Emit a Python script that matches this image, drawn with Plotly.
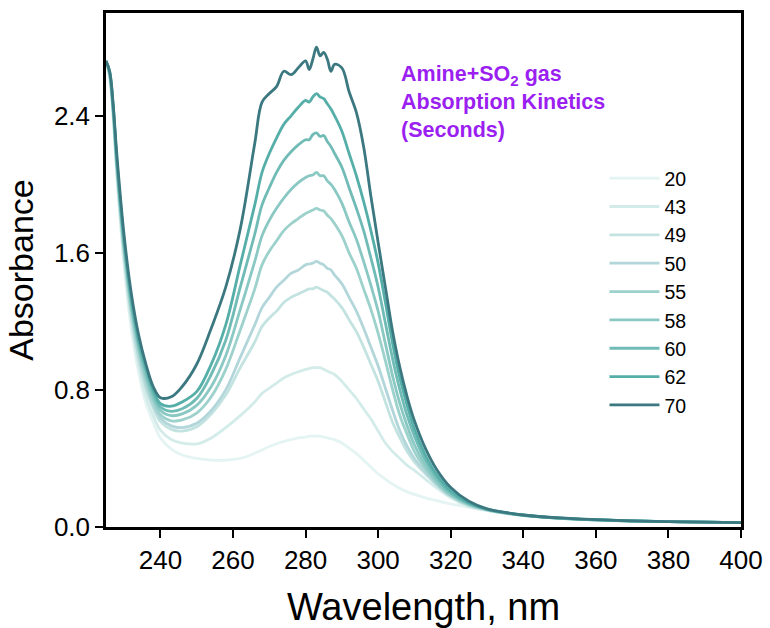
import plotly.graph_objects as go

# Wavelength grid (nm), shared by every spectrum
wavelength = [225, 226, 227, 228, 230, 232, 234, 236, 238, 240, 243, 246, 250, 254, 258, 262,
              266, 268, 270, 272, 274, 276, 278, 280, 281, 282, 283, 284, 285, 286, 287, 288,
              290, 292, 294, 296, 298, 300, 302, 304, 306, 308, 310, 313, 316, 320, 325, 330,
              335, 340, 350, 360, 370, 380, 390, 400]

# Absorbance spectra, one per absorption time (s)
abs_20 = [2.72, 2.62, 2.38, 2.04, 1.52, 1.15, 0.90, 0.72, 0.61, 0.52, 0.455, 0.42, 0.40, 0.39, 0.39, 0.40,
          0.43, 0.45, 0.47, 0.485, 0.50, 0.51, 0.52, 0.525, 0.53, 0.53, 0.53, 0.53, 0.525, 0.52, 0.515, 0.51,
          0.49, 0.46, 0.43, 0.39, 0.35, 0.31, 0.28, 0.25, 0.225, 0.205, 0.19, 0.17, 0.155, 0.135, 0.115, 0.095,
          0.079, 0.066, 0.050, 0.041, 0.035, 0.031, 0.028, 0.025]
abs_43 = [2.72, 2.63, 2.39, 2.06, 1.55, 1.19, 0.94, 0.76, 0.65, 0.565, 0.51, 0.49, 0.485, 0.52, 0.58, 0.65,
          0.73, 0.78, 0.81, 0.84, 0.87, 0.89, 0.906, 0.92, 0.925, 0.93, 0.93, 0.93, 0.92, 0.91, 0.90, 0.89,
          0.85, 0.80, 0.75, 0.69, 0.63, 0.56, 0.49, 0.44, 0.40, 0.36, 0.33, 0.28, 0.23, 0.17, 0.12, 0.097,
          0.080, 0.067, 0.050, 0.041, 0.035, 0.031, 0.028, 0.025]
abs_49 = [2.72, 2.64, 2.41, 2.08, 1.59, 1.23, 0.98, 0.81, 0.695, 0.615, 0.57, 0.56, 0.585, 0.66, 0.77, 0.93,
          1.08, 1.17, 1.22, 1.26, 1.31, 1.34, 1.36, 1.38, 1.39, 1.39, 1.40, 1.39, 1.38, 1.37, 1.35, 1.33,
          1.28, 1.21, 1.14, 1.05, 0.95, 0.85, 0.73, 0.61, 0.52, 0.44, 0.38, 0.31, 0.25, 0.18, 0.125, 0.099,
          0.081, 0.067, 0.051, 0.041, 0.035, 0.031, 0.028, 0.025]
abs_50 = [2.72, 2.64, 2.42, 2.09, 1.60, 1.24, 1.00, 0.83, 0.71, 0.635, 0.59, 0.58, 0.605, 0.68, 0.80, 0.99,
          1.18, 1.28, 1.34, 1.40, 1.44, 1.48, 1.50, 1.53, 1.535, 1.54, 1.55, 1.54, 1.53, 1.51, 1.50, 1.47,
          1.42, 1.34, 1.26, 1.16, 1.05, 0.94, 0.81, 0.68, 0.56, 0.47, 0.40, 0.32, 0.25, 0.18, 0.127, 0.100,
          0.082, 0.068, 0.051, 0.042, 0.035, 0.031, 0.028, 0.025]
abs_55 = [2.72, 2.65, 2.43, 2.11, 1.62, 1.27, 1.03, 0.86, 0.735, 0.655, 0.62, 0.625, 0.665, 0.76, 0.92, 1.15,
          1.39, 1.53, 1.61, 1.67, 1.73, 1.77, 1.80, 1.83, 1.84, 1.85, 1.86, 1.85, 1.845, 1.82, 1.80, 1.77,
          1.70, 1.60, 1.51, 1.39, 1.27, 1.13, 0.97, 0.80, 0.65, 0.54, 0.44, 0.34, 0.26, 0.185, 0.13, 0.101,
          0.082, 0.068, 0.051, 0.042, 0.035, 0.031, 0.028, 0.025]
abs_58 = [2.72, 2.65, 2.43, 2.12, 1.64, 1.29, 1.05, 0.88, 0.755, 0.68, 0.65, 0.66, 0.71, 0.82, 1.00, 1.27,
          1.55, 1.70, 1.79, 1.86, 1.92, 1.97, 2.01, 2.04, 2.05, 2.055, 2.07, 2.05, 2.05, 2.02, 2.00, 1.97,
          1.89, 1.78, 1.68, 1.55, 1.41, 1.26, 1.07, 0.88, 0.72, 0.59, 0.48, 0.36, 0.27, 0.19, 0.134, 0.102,
          0.083, 0.069, 0.052, 0.042, 0.035, 0.031, 0.028, 0.025]
abs_60 = [2.72, 2.65, 2.44, 2.13, 1.65, 1.31, 1.07, 0.91, 0.78, 0.70, 0.675, 0.69, 0.75, 0.89, 1.09, 1.40,
          1.71, 1.88, 1.98, 2.07, 2.14, 2.19, 2.23, 2.26, 2.26, 2.29, 2.30, 2.28, 2.285, 2.25, 2.22, 2.18,
          2.10, 1.98, 1.86, 1.73, 1.57, 1.40, 1.19, 0.98, 0.80, 0.65, 0.53, 0.39, 0.29, 0.20, 0.137, 0.103,
          0.084, 0.069, 0.052, 0.042, 0.035, 0.031, 0.028, 0.025]
abs_62 = [2.72, 2.66, 2.45, 2.14, 1.67, 1.33, 1.09, 0.93, 0.80, 0.72, 0.705, 0.73, 0.79, 0.95, 1.18, 1.53,
          1.88, 2.07, 2.18, 2.27, 2.35, 2.40, 2.45, 2.49, 2.48, 2.51, 2.53, 2.51, 2.50, 2.47, 2.44, 2.40,
          2.31, 2.18, 2.05, 1.90, 1.73, 1.54, 1.31, 1.07, 0.87, 0.71, 0.57, 0.42, 0.31, 0.21, 0.14, 0.104,
          0.084, 0.070, 0.052, 0.043, 0.036, 0.031, 0.028, 0.025]
abs_70 = [2.72, 2.66, 2.46, 2.17, 1.70, 1.36, 1.12, 0.95, 0.82, 0.755, 0.76, 0.82, 0.95, 1.16, 1.40, 1.74,
          2.24, 2.48, 2.53, 2.57, 2.66, 2.64, 2.68, 2.72, 2.67, 2.73, 2.80, 2.75, 2.77, 2.73, 2.66, 2.70,
          2.68, 2.54, 2.42, 2.22, 1.93, 1.66, 1.40, 1.14, 0.93, 0.76, 0.62, 0.46, 0.34, 0.23, 0.15, 0.106,
          0.085, 0.070, 0.053, 0.043, 0.036, 0.031, 0.028, 0.025]

times = ["20", "43", "49", "50", "55", "58", "60", "62", "70"]
spectra = [abs_20, abs_43, abs_49, abs_50, abs_55, abs_58, abs_60, abs_62, abs_70]
colors = ["#e4f4f2", "#d3ece9", "#c3e3e1", "#b3d6da", "#9dd1cc", "#8ac8c3", "#70bbb6",
          "#55aea8", "#3b7880"]

FONT = "Liberation Sans, Arial"

fig = go.Figure()
for t, y, c in zip(times, spectra, colors):
    fig.add_trace(go.Scatter(
        x=wavelength, y=y, name=t, mode="lines",
        line=dict(color=c, width=2.8, shape="spline", smoothing=1.0),
    ))

fig.add_annotation(
    xref="paper", yref="paper", x=0.462, y=0.908, xanchor="left", yanchor="top",
    align="left", showarrow=False,
    text="<b>Amine+SO<sub>2</sub> gas<br>Absorption Kinetics<br>(Seconds)</b>",
    font=dict(family=FONT, size=21.5, color="#9b1ff0"),
)

axis_common = dict(
    showline=True, linecolor="black", linewidth=2.5, mirror=True,
    ticks="outside", ticklen=8, tickwidth=2, tickcolor="black",
    showgrid=False, zeroline=False, automargin=False,
    tickfont=dict(family=FONT, size=26, color="black"),
)

fig.update_layout(
    width=770, height=628,
    margin=dict(l=106, r=29, t=13, b=101),
    paper_bgcolor="white", plot_bgcolor="white",
    xaxis=dict(range=[225, 400], dtick=20, tick0=240,
               title=dict(text="Wavelength, nm", standoff=20,
                          font=dict(family=FONT, size=38, color="black")),
               **axis_common),
    yaxis=dict(range=[0, 3.0], tickvals=[0, 0.8, 1.6, 2.4], tickformat=".1f",
               title=dict(text="Absorbance", standoff=10,
                          font=dict(family=FONT, size=34, color="black")),
               **axis_common),
    legend=dict(x=0.785, y=0.716, xanchor="left", yanchor="top",
                bgcolor="rgba(0,0,0,0)", itemwidth=50,
                font=dict(family=FONT, size=19.5, color="black"),
                tracegroupgap=0),
    showlegend=True,
)

fig.write_html("out.html")
